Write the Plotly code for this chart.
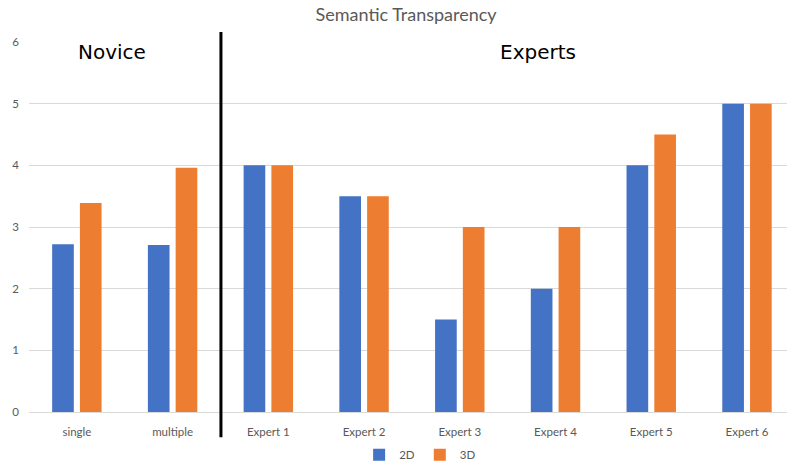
import plotly.graph_objects as go

categories = ["single", "multiple", "Expert 1", "Expert 2", "Expert 3", "Expert 4", "Expert 5", "Expert 6"]
values_2d = [2.72, 2.71, 4, 3.5, 1.5, 2, 4, 5]
values_3d = [3.39, 3.96, 4, 3.5, 3, 3, 4.5, 5]
y_ticks = [0, 1, 2, 3, 4, 5, 6]

BLUE = "#4472C4"
ORANGE = "#ED7D31"
TEXT_GRAY = "#595959"
GRID = "#D9D9D9"

fig = go.Figure()
fig.add_trace(go.Bar(name="2D", x=categories, y=values_2d, marker=dict(color=BLUE, line=dict(width=0))))
fig.add_trace(go.Bar(name="3D", x=categories, y=values_3d, marker=dict(color=ORANGE, line=dict(width=0))))

# Divider between the novice and expert groups
fig.add_shape(type="line", xref="x", yref="paper", x0=1.505, x1=1.505, y0=1.027, y1=-0.068,
              line=dict(color="black", width=3))

fig.add_annotation(text="Novice", xref="x", yref="y", x=0.366, y=5.84, showarrow=False,
                   font=dict(family="DejaVu Sans", size=20, color="black"))
fig.add_annotation(text="Experts", xref="x", yref="y", x=4.82, y=5.84, showarrow=False,
                   font=dict(family="DejaVu Sans", size=20, color="black"))

fig.update_layout(
    width=787, height=465,
    margin=dict(l=29, r=0, t=42, b=53, autoexpand=False),
    paper_bgcolor="white", plot_bgcolor="white",
    title=dict(text="Semantic Transparency", x=0.516, xanchor="center",
               yref="container", y=0.968, yanchor="middle",
               font=dict(family="Lato", size=18, color=TEXT_GRAY)),
    barmode="group", bargap=0.42, bargroupgap=0.22,
    font=dict(family="Lato", size=11.5, color=TEXT_GRAY),
    legend=dict(orientation="h", x=0.516, xanchor="center",
                yref="container", y=0.022, yanchor="middle",
                font=dict(family="Lato", size=11.5, color=TEXT_GRAY), itemwidth=30,
                tracegroupgap=0),
    xaxis=dict(range=[-0.5, 7.418], showgrid=False, showline=True, linecolor=GRID, linewidth=1,
               ticks="", ticklabelstandoff=9,
               tickfont=dict(family="Lato", size=11.5, color=TEXT_GRAY)),
    yaxis=dict(range=[0, 6], tickvals=y_ticks, showgrid=True, gridcolor=GRID, gridwidth=1,
               zeroline=False, showline=False, ticks="", ticklabelstandoff=9,
               tickfont=dict(family="Lato", size=11.5, color=TEXT_GRAY)),
)

fig.write_html("out.html")
